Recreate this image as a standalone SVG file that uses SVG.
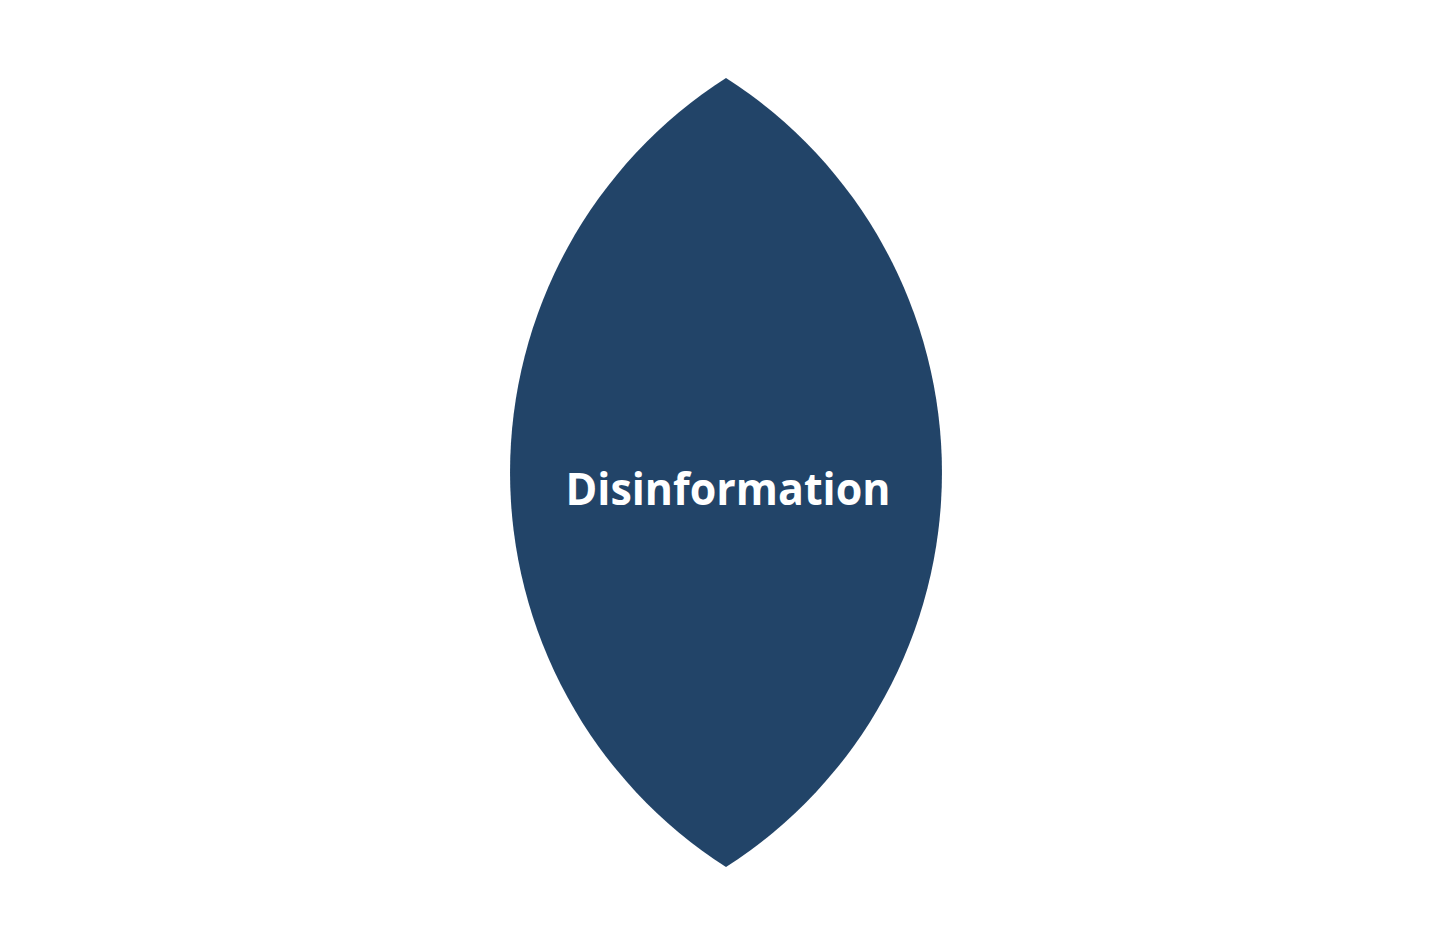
<svg xmlns="http://www.w3.org/2000/svg" width="1452" height="946" viewBox="0 0 1452 946">
<style>
.lens{fill:#224468}
.lbl{font-family:"Open Sans","Liberation Sans",sans-serif;font-weight:bold;font-size:45px;fill:#ffffff;text-anchor:middle}
</style>
<rect width="1452" height="946" fill="#ffffff"/>
<g id="node-disinformation">
<path class="lens" d="M726,78 A468.3 468.3 0 0 0 726,867 A468.3 468.3 0 0 0 726,78 Z"/>
<text class="lbl" x="728" y="505" textLength="325" lengthAdjust="spacingAndGlyphs">Disinformation</text>
</g>
<g id="connectors"/>
</svg>
